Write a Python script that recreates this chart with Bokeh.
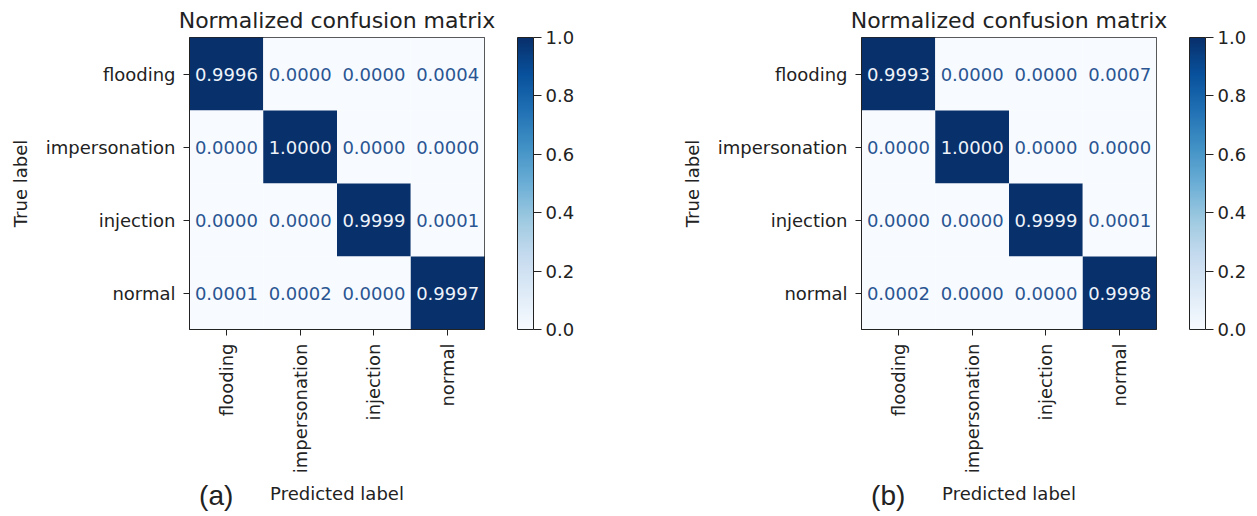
import numpy as np
from bokeh.plotting import figure
from bokeh.layouts import row, column
from bokeh.models import (Range1d, FixedTicker, ColumnDataSource, LinearColorMapper,
                          PrintfTickFormatter, ColorBar, LinearAxis)
from bokeh.palettes import Blues256
from bokeh.transform import transform
from bokeh.core.properties import value
from bokeh.embed import file_html
from bokeh.resources import INLINE

# ---- data -------------------------------------------------------------
classes = ["flooding", "impersonation", "injection", "normal"]

matrix_a = [
    [0.9996, 0.0000, 0.0000, 0.0004],
    [0.0000, 1.0000, 0.0000, 0.0000],
    [0.0000, 0.0000, 0.9999, 0.0001],
    [0.0001, 0.0002, 0.0000, 0.9997],
]
matrix_b = [
    [0.9993, 0.0000, 0.0000, 0.0007],
    [0.0000, 1.0000, 0.0000, 0.0000],
    [0.0000, 0.0000, 0.9999, 0.0001],
    [0.0002, 0.0000, 0.0000, 0.9998],
]
cbar_ticks = [0.0, 0.2, 0.4, 0.6, 0.8, 1.0]
panel_tags = ["(a)", "(b)"]
title_text = "Normalized confusion matrix"
x_title = "Predicted label"
y_title = "True label"

# ---- styling ----------------------------------------------------------
FONT = "DejaVu Sans"
TAG_FONT = "Liberation Sans"
INK = "#222222"
LOW_TEXT = "#2a5592"      # numbers on pale cells
HIGH_TEXT = "#eef3fa"     # numbers on dark cells
palette = list(reversed(Blues256))          # light -> dark
mapper = LinearColorMapper(palette=palette, low=cbar_ticks[0], high=cbar_ticks[-1])

TOP, MAIN_H, STRIP_H = 36, 478, 38
LEFT, FRAME_W, FRAME_H = 189, 295, 293


def style_axes(p):
    p.grid.visible = False
    p.outline_line_color = INK
    p.outline_line_width = 1
    for ax in p.axis:
        ax.axis_line_color = INK
        ax.major_tick_line_color = INK
        ax.minor_tick_line_color = None
        ax.major_tick_in = 0
        ax.major_tick_out = 6
        ax.major_label_text_font = FONT
        ax.major_label_text_font_size = "18px"
        ax.major_label_text_color = INK
        ax.axis_label_text_font = FONT
        ax.axis_label_text_font_size = "18px"
        ax.axis_label_text_font_style = "normal"
        ax.axis_label_text_color = INK


def matrix_fig(mat, width):
    n = len(classes)
    flat = [v for r in mat for v in r]
    thresh = (min(flat) + max(flat)) / 2.0
    xs, ys, vals, labels, tcolors = [], [], [], [], []
    for i in range(n):
        for j in range(n):
            v = mat[i][j]
            xs.append(j)
            ys.append(i)
            vals.append(v)
            labels.append(f"{v:.4f}")
            tcolors.append(LOW_TEXT if v < thresh else HIGH_TEXT)
    src = ColumnDataSource(dict(x=xs, y=ys, v=vals, label=labels, tc=tcolors))

    p = figure(width=width, height=MAIN_H,
               x_range=Range1d(-0.5, n - 0.5), y_range=Range1d(n - 0.5, -0.5),
               output_backend="svg", toolbar_location=None,
               min_border_left=LEFT, min_border_right=width - LEFT - FRAME_W,
               min_border_top=TOP, min_border_bottom=MAIN_H - TOP - FRAME_H)
    p.title.text = title_text
    p.title.text_font = FONT
    p.title.text_font_size = "22px"
    p.title.text_font_style = "normal"
    p.title.text_color = INK
    p.title.align = "center"

    p.rect(x="x", y="y", width=1, height=1, source=src,
           fill_color=transform("v", mapper), line_color=None)
    p.text(x="x", y="y", text="label", source=src, text_color="tc",
           text_align="center", text_baseline="middle",
           text_font=value(FONT), text_font_size="18px")

    ticks = list(range(n))
    overrides = {i: c for i, c in enumerate(classes)}
    p.xaxis.ticker = FixedTicker(ticks=ticks)
    p.yaxis.ticker = FixedTicker(ticks=ticks)
    p.xaxis.major_label_overrides = overrides
    p.yaxis.major_label_overrides = overrides
    p.xaxis.major_label_orientation = np.pi / 2
    p.yaxis.axis_label = y_title
    style_axes(p)
    p.xaxis.major_label_standoff = 8
    p.yaxis.major_label_standoff = 8
    p.yaxis.axis_label_standoff = 12

    # blank spacer axis: leaves a gap between the matrix and its colour bar
    spacer = LinearAxis(ticker=FixedTicker(ticks=[0]), major_label_overrides={0: ""},
                        major_tick_out=33, major_tick_in=0,
                        minor_tick_out=0, minor_tick_in=0,
                        major_tick_line_color=None, minor_tick_line_color=None,
                        axis_line_color=None, major_label_standoff=0,
                        major_label_text_font_size="1px")
    p.add_layout(spacer, "right")

    cbar = ColorBar(color_mapper=mapper, width=16, padding=0, margin=0,
                    ticker=FixedTicker(ticks=cbar_ticks),
                    formatter=PrintfTickFormatter(format="%.1f"),
                    major_tick_in=0, major_tick_out=8,
                    major_tick_line_color=INK, minor_tick_line_color=None,
                    bar_line_color=INK, bar_line_width=1,
                    border_line_color=None, background_fill_color=None,
                    label_standoff=4,
                    major_label_text_font=FONT, major_label_text_font_size="18px",
                    major_label_text_color=INK)
    p.add_layout(cbar, "right")
    return p


def caption_strip(main, tag, width):
    # strip under the matrix sharing its x scale: panel tag and x-axis title
    s = figure(width=width, height=STRIP_H, x_range=main.x_range, y_range=Range1d(0, 1),
               output_backend="svg", toolbar_location=None,
               x_axis_location=None, y_axis_location=None,
               min_border_left=LEFT, min_border_right=width - LEFT - FRAME_W,
               min_border_top=0, min_border_bottom=0)
    s.grid.visible = False
    s.outline_line_color = None
    n = len(classes)
    s.text(x=[(n - 1) / 2], y=[0.6], text=[x_title], text_align="center",
           text_baseline="middle", text_font=value(FONT), text_font_size="18px",
           text_color=INK)
    s.text(x=[-0.37], y=[0.55], text=[tag], text_align="left",
           text_baseline="middle", text_font=value(TAG_FONT), text_font_size="28px",
           text_color=INK)
    return s


fa = matrix_fig(matrix_a, 672)
fb = matrix_fig(matrix_b, 585)
layout = row(column(fa, caption_strip(fa, panel_tags[0], 672)),
             column(fb, caption_strip(fb, panel_tags[1], 585)))

open("out.html", "w").write(file_html(layout, INLINE))
